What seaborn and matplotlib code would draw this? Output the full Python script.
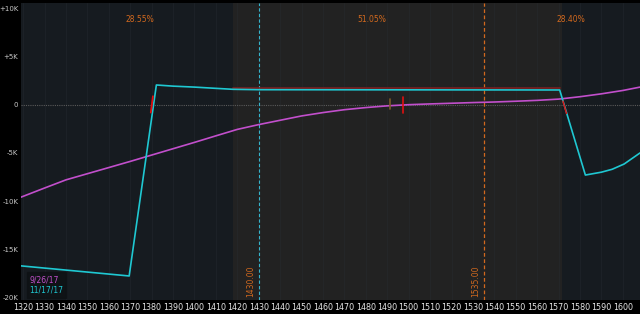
import numpy as np
import pandas as pd
import matplotlib
matplotlib.use("Agg")
import matplotlib.pyplot as plt
import seaborn as sns
from matplotlib.lines import Line2D

# ---- data ----
mag_x = [1319, 1330, 1340, 1350, 1360, 1370, 1380, 1390, 1400, 1410, 1420, 1430,
         1440, 1450, 1460, 1470, 1480, 1490, 1500, 1510, 1520, 1530, 1540, 1550,
         1560, 1570, 1580, 1590, 1600, 1608]
mag_y = [-9.6, -8.65, -7.8, -7.16, -6.52, -5.88, -5.22, -4.56, -3.9, -3.22, -2.55, -2.05,
         -1.6, -1.15, -0.8, -0.5, -0.28, -0.1, 0.02, 0.1, 0.17, 0.24, 0.3, 0.38,
         0.47, 0.6, 0.85, 1.15, 1.5, 1.85]

cyan_x = [1319, 1369.5, 1382.2, 1390, 1400, 1410, 1418, 1430, 1570.5, 1582.5, 1590, 1595, 1600.6, 1608]
cyan_y = [-16.75, -17.8, 2.07, 1.95, 1.85, 1.72, 1.62, 1.58, 1.55, -7.3, -7.0, -6.7, -6.15, -5.0]

red_top_x = [1418, 1570.5]
red_top_y = [1.78, 1.78]

regions = [(1319, 1418, "#161b20"), (1418, 1571.5, "#222222"), (1571.5, 1608, "#161b20")]
pct_labels = ["28.55%", "51.05%", "28.40%"]
pct_x = [1374.7, 1483, 1575.6]
pct_y = 8.9

vline_x = [1430.0, 1535.0]
vline_labels = ["1430.00", "1535.00"]

marker_red_x = 1497.5
marker_brown_x = 1491.5

cross_left = ([1379.6, 1380.6], [-0.8, 0.9])
cross_right = ([1572.0, 1573.7], [0.4, -0.9])

yticks = [10, 5, 0, -5, -10, -15, -20]
ytick_labels = ["+10K", "+5K", "0", "-5K", "-10K", "-15K", "-20K"]
xticks = list(range(1320, 1601, 10))
series_names = ["9/26/17", "11/17/17"]
mag_color = "#c24fcc"
cyan_color = "#1fc8d2"
orange = "#d2691e"

# ---- figure ----
sns.set_theme(style="dark")
plt.rcParams["font.family"] = ["DejaVu Sans"]
fig = plt.figure(figsize=(6.4, 3.14), dpi=100, facecolor="black")
ax = fig.add_axes([21 / 640, 14 / 314, 619 / 640, 297 / 314])
ax.set_facecolor("#161b20")

for x0, x1, c in regions:
    ax.axvspan(x0, x1, color=c, zorder=0, lw=0)

for xt in xticks:
    ax.axvline(xt, color="#2a2f35", lw=0.5, zorder=0.5, alpha=0.5)

ax.axhline(0, color="#5a5a5a", lw=0.8, ls=(0, (1, 1)), zorder=1)

# vertical dashed lines
ax.axvline(vline_x[0], color="#35b4cc", lw=0.8, ls=(0, (3, 2)), zorder=1.2)
ax.axvline(vline_x[1], color=orange, lw=0.9, ls=(0, (3, 2)), zorder=1.2)
for vx, lab in zip(vline_x, vline_labels):
    ax.text(vx - 3.6, -18.3, lab, rotation=90, color=orange, fontsize=5.5,
            ha="center", va="center", zorder=3)

for px, lab in zip(pct_x, pct_labels):
    ax.text(px, pct_y, lab, color=orange, fontsize=5.5, ha="center", va="center")

df_top = pd.DataFrame({"x": red_top_x, "y": red_top_y})
sns.lineplot(data=df_top, x="x", y="y", ax=ax, color="#7a2020", lw=1.2, zorder=2)

df_mag = pd.DataFrame({"x": mag_x, "y": mag_y})
df_cyan = pd.DataFrame({"x": cyan_x, "y": cyan_y})
sns.lineplot(data=df_mag, x="x", y="y", ax=ax, color=mag_color, lw=1.2, zorder=3, sort=False)
sns.lineplot(data=df_cyan, x="x", y="y", ax=ax, color=cyan_color, lw=1.2, zorder=3, sort=False)

ax.plot(*cross_left, color="#e01010", lw=1.3, zorder=4)
ax.plot(*cross_right, color="#e01010", lw=1.0, zorder=4)
ax.plot([marker_red_x, marker_red_x], [-0.85, 0.85], color="#e01010", lw=1.2, zorder=4)
ax.plot([marker_brown_x, marker_brown_x], [-0.45, 0.6], color="#7a5a2a", lw=1.2, zorder=4)

ax.set_xlim(1319, 1608)
ax.set_ylim(-20.3, 10.6)
ax.set_xlabel("")
ax.set_ylabel("")
ax.set_xticks(xticks)
ax.set_xticklabels([str(t) for t in xticks], color="#e6e6e6", fontsize=5.8)
ax.set_yticks(yticks)
ax.set_yticklabels(ytick_labels, color="#c8c8c8", fontsize=5.0)
ax.tick_params(axis="x", length=0, pad=2.5)
ax.tick_params(axis="y", length=0, pad=2.0)
ax.grid(False)
for s in ax.spines.values():
    s.set_visible(False)

# legend box
handles = [Line2D([], [], color=mag_color, lw=0), Line2D([], [], color=cyan_color, lw=0)]
leg = ax.legend(handles, series_names, loc="lower left", bbox_to_anchor=(0.003, -0.005),
                handlelength=0, handletextpad=0, fontsize=5.5, frameon=True,
                borderpad=0.35, labelspacing=0.25, fancybox=False)
leg.get_frame().set_facecolor("#0e1114")
leg.get_frame().set_edgecolor("#0e1114")
for t, c in zip(leg.get_texts(), [mag_color, cyan_color]):
    t.set_color(c)

fig.savefig("out.png", dpi=100, facecolor="black")
